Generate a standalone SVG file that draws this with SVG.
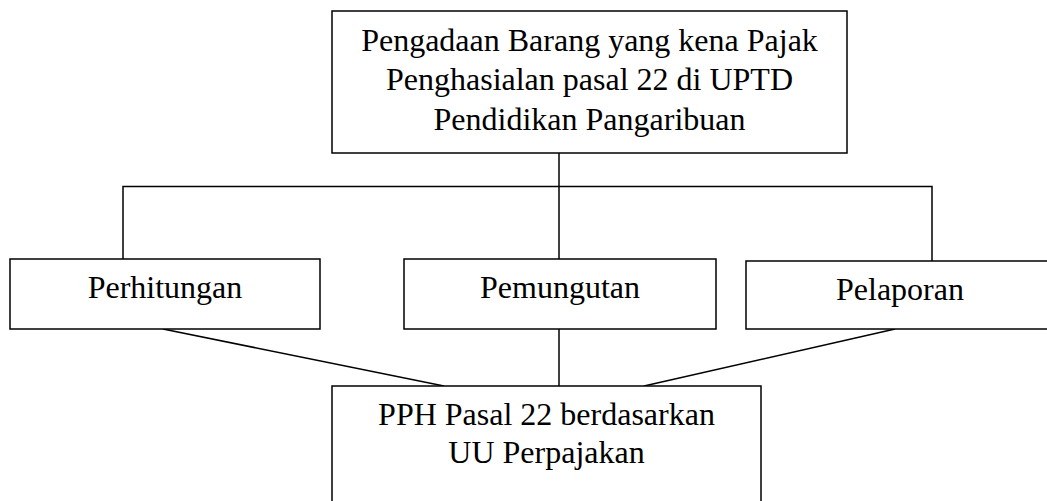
<svg xmlns="http://www.w3.org/2000/svg" width="1047" height="501" viewBox="0 0 1047 501">
<style>
.box{fill:#fff;stroke:#000;stroke-width:1.5}
.ln{fill:none;stroke:#000;stroke-width:1.5}
text{font-family:"Liberation Serif","Times New Roman",serif;font-size:32px;fill:#000;text-anchor:middle}
</style>
<rect width="1047" height="501" fill="#fff"/>
<g id="connectors">
<line class="ln" x1="559" y1="153" x2="559" y2="186.5"/>
<polyline class="ln" points="123,259 123,186.5 932,186.5 932,261"/>
<line class="ln" x1="559" y1="186.5" x2="559" y2="259"/>
<line class="ln" x1="163" y1="329" x2="444" y2="386"/>
<line class="ln" x1="559" y1="329" x2="559" y2="386"/>
<line class="ln" x1="895" y1="329" x2="644" y2="386"/>
</g>
<g id="top">
<rect class="box" x="332" y="11" width="515" height="142"/>
<text x="589.5" y="51">Pengadaan Barang yang kena Pajak</text>
<text x="589.5" y="90">Penghasialan pasal 22 di UPTD</text>
<text x="589.5" y="130">Pendidikan Pangaribuan</text>
</g>
<g id="perhitungan">
<rect class="box" x="10" y="259" width="310" height="70"/>
<text x="165" y="298">Perhitungan</text>
</g>
<g id="pemungutan">
<rect class="box" x="404" y="259" width="312" height="70"/>
<text x="560" y="298">Pemungutan</text>
</g>
<g id="pelaporan">
<rect class="box" x="746" y="261" width="310" height="68"/>
<text x="900" y="300">Pelaporan</text>
</g>
<g id="bottom">
<rect class="box" x="332" y="386" width="429" height="130"/>
<text x="546.5" y="425">PPH Pasal 22 berdasarkan</text>
<text x="546.5" y="463">UU Perpajakan</text>
</g>
</svg>
